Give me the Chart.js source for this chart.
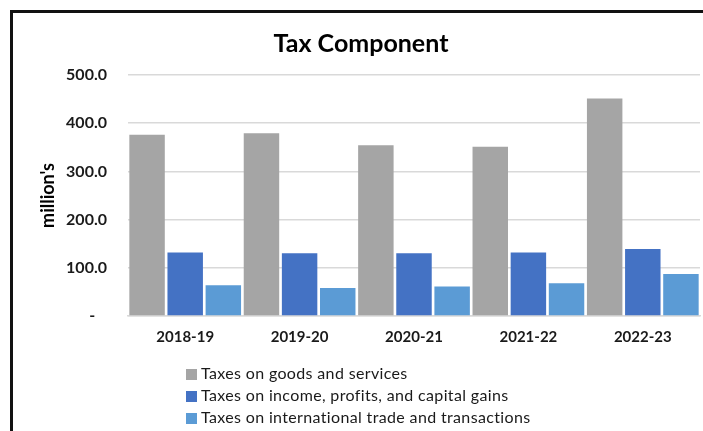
<!DOCTYPE html>
<html>
<head>
<meta charset="utf-8">
<script src="https://cdn.jsdelivr.net/npm/chart.js@4.4.1/dist/chart.umd.min.js"></script>
<style>
  html, body { margin: 0; padding: 0; background: #fff; }
  #wrap { position: relative; width: 703px; height: 431px; overflow: hidden; }
  #taxChart { position: absolute; left: 0; top: 0; }
  #frame {
    position: absolute; left: 10px; top: 10px; width: 720px; height: 440px;
    border-left: 3px solid #111; border-top: 3px solid #111; pointer-events: none;
  }
  #legend {
    position: absolute; left: 186px; top: 362px;
    font-family: Lato, "Open Sans", sans-serif; font-size: 16px; letter-spacing: 0.35px; color: #1a1a1a;
  }
  #legend div { height: 22px; line-height: 22px; white-space: nowrap; }
  #legend span.box { display: inline-block; width: 11px; height: 11px; margin-right: 4px; vertical-align: -1px; }
</style>
</head>
<body>
<div id="wrap">
  <canvas id="taxChart" width="703" height="431"></canvas>
  <div id="frame"></div>
  <div id="legend"></div>
</div>
<script>
// fiscal years and tax components (million's)
let years = ["2018-19", "2019-20", "2020-21", "2021-22", "2022-23"];
let seriesNames = [
  "Taxes on goods and services",
  "Taxes on income, profits, and capital gains",
  "Taxes on international trade and transactions"
];
let goodsServices = [376, 379, 354, 351, 451];
let incomeProfits = [132, 130, 130, 132, 139];
let intlTrade = [64, 58, 61, 68, 87];
let yTicks = [0, 100, 200, 300, 400, 500];

let colors = ["#A5A5A5", "#4472C4", "#5B9BD5"];
let font = "Lato, 'Open Sans', sans-serif";

let chart = new Chart(document.getElementById("taxChart"), {
  type: "bar",
  data: {
    labels: years,
    datasets: [goodsServices, incomeProfits, intlTrade].map((d, i) => ({
      label: seriesNames[i],
      data: d,
      backgroundColor: colors[i],
      borderWidth: 0,
      barPercentage: 0.93,
      categoryPercentage: 1.0
    }))
  },
  options: {
    responsive: false,
    animation: false,
    layout: { padding: { left: 22, right: 3, top: 0, bottom: 0 } },
    plugins: {
      legend: { display: false },
      tooltip: { enabled: false },
      title: {
        display: true,
        text: "Tax Component",
        color: "#000",
        font: { family: font, size: 25, weight: "bold", lineHeight: 1.2 },
        padding: { top: 29, bottom: 16 }
      }
    },
    scales: {
      x: {
        grid: { display: false, drawTicks: false },
        border: { display: true, color: "#D9D9D9", width: 1.5 },
        ticks: { color: "#1a1a1a", padding: 12, font: { family: font, size: 15, weight: "bold" } },
        afterFit: s => { s.height = 115; }
      },
      y: {
        min: 0,
        max: 500,
        afterBuildTicks: s => { s.ticks = yTicks.map(v => ({ value: v })); },
        grid: { color: "#D9D9D9", lineWidth: 1.5, drawTicks: false },
        border: { display: false },
        ticks: {
          color: "#1a1a1a",
          padding: 21,
          font: { family: font, size: 16, weight: "bold" },
          callback: v => v === 0 ? "-   " : v.toFixed(1)
        },
        title: {
          display: true,
          text: "million's",
          color: "#000",
          font: { family: font, size: 18, weight: "bold", lineHeight: 1.2 },
          padding: { top: 15, bottom: 0 }
        },
        afterFit: s => { s.width = 106; }
      }
    }
  }
});

// vertical legend under the plot, built from the chart's own datasets
let legendBox = document.getElementById("legend");
chart.data.datasets.forEach(ds => {
  let row = document.createElement("div");
  row.innerHTML = `<span class="box" style="background:${ds.backgroundColor}"></span>${ds.label}`;
  legendBox.appendChild(row);
});
</script>
</body>
</html>
